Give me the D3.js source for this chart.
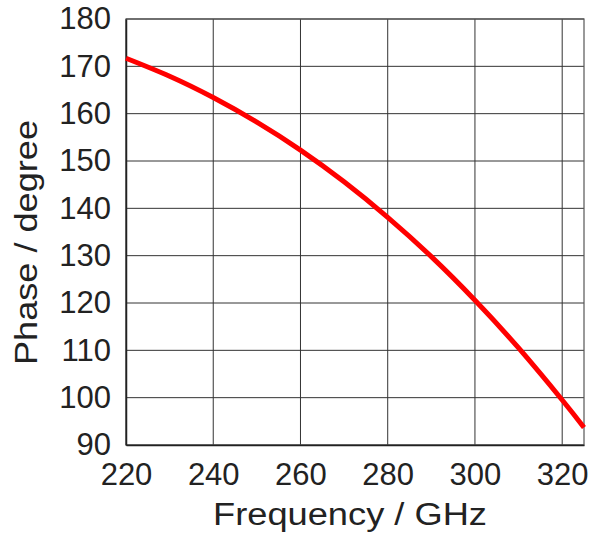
<!DOCTYPE html>
<html>
<head>
<meta charset="utf-8">
<script src="https://cdn.jsdelivr.net/npm/d3@7"></script>
<style>
  body { margin: 0; background: #fff; }
  svg { display: block; }
  .tick text { font-family: "Liberation Sans", Arial, sans-serif; fill: #222; }
  .axis-label { font-family: "Liberation Sans", Arial, sans-serif; fill: #222; }
</style>
</head>
<body>
<div id="chart"></div>
<script>
// Phase response
const freqGHz = [220, 230, 240, 250, 260, 270, 280, 290, 300, 310, 320, 325];
const phaseDeg = [171.7, 167.9, 163.4, 158.2, 152.3, 145.6, 138.1, 129.8, 120.6, 110.5, 99.5, 93.7];
const xTicks = [220, 240, 260, 280, 300, 320];
const yTicks = [90, 100, 110, 120, 130, 140, 150, 160, 170, 180];

const width = 611, height = 533;
const margin = { top: 19, right: 27, bottom: 88, left: 126 };
const innerWidth = width - margin.left - margin.right;
const innerHeight = height - margin.top - margin.bottom;

const svg = d3.select("#chart").append("svg")
  .attr("width", width)
  .attr("height", height);

const plot = svg.append("g").attr("transform", `translate(${margin.left}, ${margin.top})`);

const x = d3.scaleLinear().domain([220, 325]).range([0, innerWidth]);
const y = d3.scaleLinear().domain([90, 180]).range([innerHeight, 0]);

const data = freqGHz.map((f, i) => ({ f, p: phaseDeg[i] }));

// grid lines
plot.append("g")
  .selectAll("line")
  .data(yTicks)
  .join("line")
  .attr("x1", 0).attr("x2", innerWidth)
  .attr("y1", (d) => y(d)).attr("y2", (d) => y(d))
  .attr("stroke", "#333").attr("stroke-width", 1);

plot.append("g")
  .selectAll("line")
  .data(xTicks)
  .join("line")
  .attr("y1", 0).attr("y2", innerHeight)
  .attr("x1", (d) => x(d)).attr("x2", (d) => x(d))
  .attr("stroke", "#333").attr("stroke-width", 1);

// frame
plot.append("rect")
  .attr("width", innerWidth).attr("height", innerHeight)
  .attr("fill", "none").attr("stroke", "#555").attr("stroke-width", 1.2);

// axes
const xAxis = d3.axisBottom(x).tickValues(xTicks).tickSize(0).tickPadding(18);
const yAxis = d3.axisLeft(y).tickValues(yTicks).tickSize(0).tickPadding(15);

const xAxisG = plot.append("g").attr("transform", `translate(0, ${innerHeight})`).call(xAxis);
const yAxisG = plot.append("g").call(yAxis);
[xAxisG, yAxisG].forEach((g) => {
  g.select(".domain").attr("stroke", "#222").attr("stroke-width", 1.5);
  g.selectAll(".tick text").style("font-size", "31px");
});

// curve
const line = d3.line()
  .x((d) => x(d.f))
  .y((d) => y(d.p))
  .curve(d3.curveNatural);

plot.append("path")
  .datum(data)
  .attr("d", line)
  .attr("fill", "none")
  .attr("stroke", "#ff0000")
  .attr("stroke-width", 5);

// axis titles
svg.append("text")
  .attr("class", "axis-label")
  .attr("x", 213).attr("y", 525)
  .attr("textLength", 274)
  .attr("lengthAdjust", "spacingAndGlyphs")
  .style("font-size", "31px")
  .text("Frequency / GHz");

svg.append("text")
  .attr("class", "axis-label")
  .attr("transform", `translate(37, 365) rotate(-90)`)
  .attr("textLength", 245)
  .attr("lengthAdjust", "spacingAndGlyphs")
  .style("font-size", "31px")
  .text("Phase / degree");
</script>
</body>
</html>
